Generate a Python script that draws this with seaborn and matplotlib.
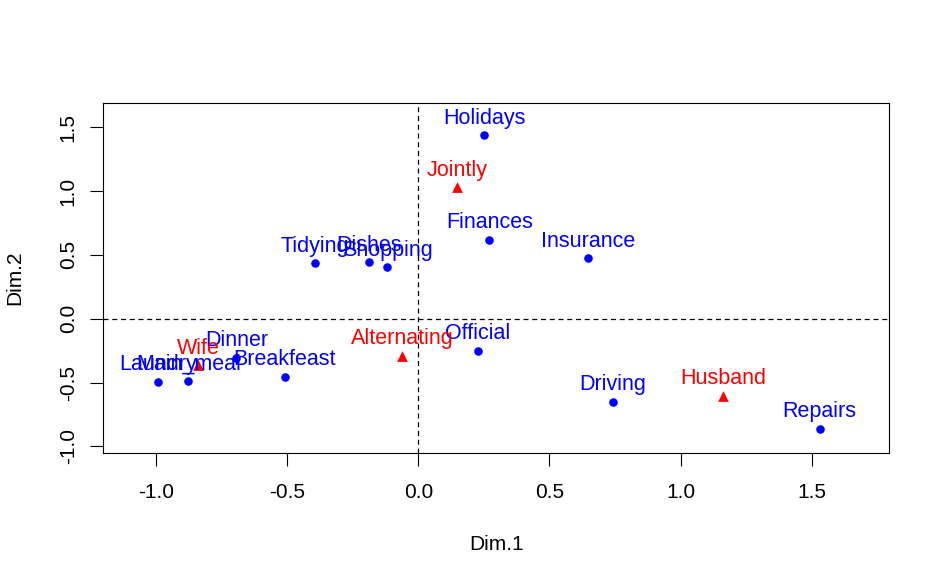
import matplotlib
matplotlib.use("Agg")
import matplotlib.pyplot as plt
import seaborn as sns
import pandas as pd

# CA of housetasks: row (task) and column (who) coordinates
tasks = ["Laundry", "Main_meal", "Dinner", "Breakfeast", "Tidying", "Dishes",
         "Shopping", "Official", "Driving", "Finances", "Insurance", "Repairs",
         "Holidays"]
task_dim1 = [-0.992, -0.876, -0.693, -0.509, -0.394, -0.189, -0.118, 0.227,
             0.742, 0.271, 0.647, 1.529, 0.252]
task_dim2 = [-0.495, -0.490, -0.308, -0.453, 0.434, 0.442, 0.403, -0.254,
             -0.653, 0.618, 0.474, -0.864, 1.435]

who = ["Wife", "Alternating", "Husband", "Jointly"]
who_dim1 = [-0.838, -0.062, 1.161, 0.149]
who_dim2 = [-0.365, -0.292, -0.602, 1.029]

rows = pd.DataFrame({"label": tasks, "Dim.1": task_dim1, "Dim.2": task_dim2})
cols = pd.DataFrame({"label": who, "Dim.1": who_dim1, "Dim.2": who_dim2})

sns.set_theme(style="white")
plt.rcParams["font.family"] = ["Liberation Sans", "DejaVu Sans"]

fig = plt.figure(figsize=(9.42, 5.82), dpi=100)
ax = fig.add_axes([0.1097, 0.2216, 0.8344, 0.6009])

ax.axvline(0, color="black", lw=0.9, ls=(0, (4, 3)), zorder=1)
ax.axhline(0, color="black", lw=0.9, ls=(0, (4, 3)), zorder=1)

sns.scatterplot(data=rows, x="Dim.1", y="Dim.2", ax=ax, color="blue",
                marker="o", s=38, edgecolor="blue", linewidth=0, zorder=3)
sns.scatterplot(data=cols, x="Dim.1", y="Dim.2", ax=ax, color="red",
                marker="^", s=60, edgecolor="red", linewidth=0, zorder=3)

for df, c in [(rows, "blue"), (cols, "red")]:
    for _, r in df.iterrows():
        ax.annotate(r["label"], (r["Dim.1"], r["Dim.2"]), xytext=(0, 8.4),
                    textcoords="offset points", ha="center", va="baseline",
                    color=c, fontsize=15.5, zorder=4)

ax.set_xlim(-1.200, 1.795)
ax.set_ylim(-1.052, 1.687)
ax.set_xticks([-1.0, -0.5, 0.0, 0.5, 1.0, 1.5])
ax.set_yticks([-1.0, -0.5, 0.0, 0.5, 1.0, 1.5])
ax.set_xticklabels(["-1.0", "-0.5", "0.0", "0.5", "1.0", "1.5"])
ax.set_yticklabels(["-1.0", "-0.5", "0.0", "0.5", "1.0", "1.5"],
                   rotation=90, va="center")
ax.tick_params(axis="both", direction="out", length=9.5, width=0.8,
               color="black", labelsize=15, labelcolor="black",
               bottom=True, left=True)
ax.tick_params(axis="x", pad=12)
ax.tick_params(axis="y", pad=9)

for s in ax.spines.values():
    s.set_color("black")
    s.set_linewidth(0.8)

ax.set_xlabel("Dim.1", fontsize=15, color="black", labelpad=23.5)
ax.set_ylabel("Dim.2", fontsize=15, color="black", labelpad=25)

fig.savefig("out.png", dpi=100)
